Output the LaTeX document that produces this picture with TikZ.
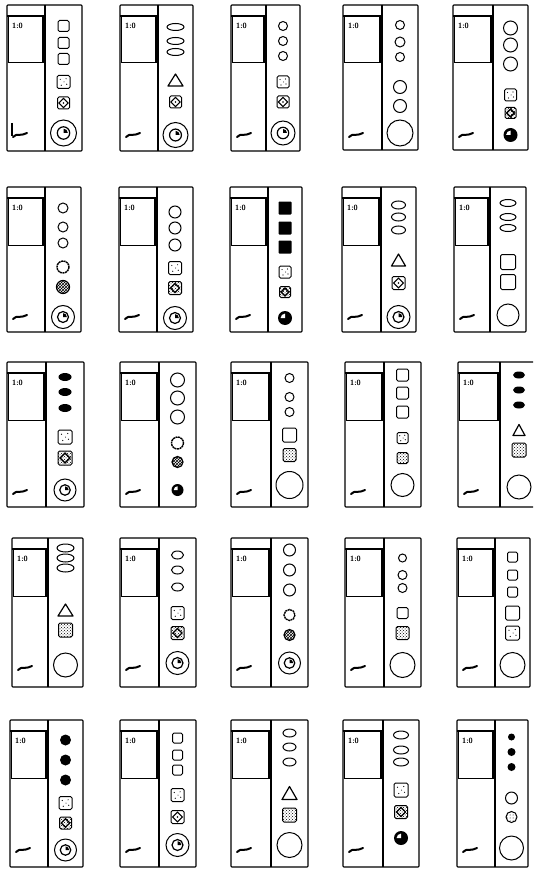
\documentclass[tikz,border=0pt]{standalone}
\usetikzlibrary{patterns}
\tikzset{
  frame/.style={line width=1.1pt, rounded corners=0.8pt},
  ic/.style={line width=1pt},
  disp/.style={line width=1pt},
  label10/.style={anchor=west, font=\sffamily\bfseries\fontsize{7.5}{8}\selectfont, inner sep=0pt}
}
\newcommand\Panel[6]{%
  \draw[frame] (#1,#4) rectangle (#3,#5);
  \draw[frame] (#1,#4+11) -- (#2,#4+11);
  \draw[disp] (#1+1.5,#4+11) rectangle (#2-1.5,#4+58);
  \draw[line width=2.2pt] (#2-2,#4+11) -- (#2-2,#4+58);
  \draw[line width=1.8pt] (#2,#4) -- (#2,#5);
  \node[label10] at (#1+5,#4+21) {1:0};
  \draw[line width=2pt, line cap=round] (#1+6,#4+132) -- (#1+9,#4+130) .. controls (#1+12,#4+129) and (#1+14,#4+131) .. (#1+20,#4+128);
  \begin{scope}[shift={({(#2+#3)/2},#4)}]#6\end{scope}%
}
\newcommand\icSq[2]{\draw[ic,rounded corners=1.5pt] (-#2/2,#1-#2/2) rectangle (#2/2,#1+#2/2);}
\newcommand\icFSq[2]{\fill[rounded corners=0.8pt] (-#2/2,#1-#2/2) rectangle (#2/2,#1+#2/2);}
\newcommand\icCi[2]{\draw[ic] (0,#1) circle[radius=#2/2];}
\newcommand\icFCi[2]{\fill (0,#1) circle[radius=#2/2];}
\newcommand\icEl[3]{\draw[ic] (0,#1) ellipse[x radius=#2/2, y radius=#3/2];}
\newcommand\icFEl[3]{\fill (0,#1) ellipse[x radius=#2/2, y radius=#3/2];}
\newcommand\icTri[3]{\draw[ic,line width=1.2pt,line join=round] (-#2/2,#1+#3/2) -- (#2/2,#1+#3/2) -- (0,#1-#3/2) -- cycle;}
\newcommand\icDot[2]{\icSq{#1}{#2}\fill (-#2/4,#1-#2/5) circle[radius=0.6] (#2/5,#1-#2/4) circle[radius=0.6] (-#2/6,#1+#2/4) circle[radius=0.6] (#2/4,#1+#2/6) circle[radius=0.6] (0.5,#1) circle[radius=0.5];}
\newcommand\icStip[2]{\draw[ic,rounded corners=1.5pt,pattern=crosshatch dots] (-#2/2,#1-#2/2) rectangle (#2/2,#1+#2/2);}
\newcommand\icPat[2]{\draw[ic,rounded corners=1.5pt,pattern=crosshatch dots] (-#2/2,#1-#2/2) rectangle (#2/2,#1+#2/2);\draw[line width=1.3pt] (0,#1-#2*0.35) -- (#2*0.35,#1) -- (0,#1+#2*0.35) -- (-#2*0.35,#1) -- cycle;}
\newcommand\icDia[2]{\icSq{#1}{#2}\draw[ic] (0,#1-#2*0.38) -- (#2*0.38,#1) -- (0,#1+#2*0.38) -- (-#2*0.38,#1) -- cycle;\fill (0,#1) circle[radius=0.9];}
\newcommand\icClock[2]{\draw[ic] (0,#1) circle[radius=#2/2];\draw[line width=1.2pt] (0,#1) circle[radius=#2/4.2];\fill (0,#1) -- (#2/6,#1) arc[start angle=0,end angle=-90,radius=#2/6] -- cycle;}
\newcommand\icDClock[2]{\fill (0,#1) circle[radius=#2/2];\fill[white] (0,#1) -- (-#2/3.2,#1) arc[start angle=180,end angle=270,radius=#2/3.2] -- cycle;}
\newcommand\icJag[2]{\draw[line width=1.4pt,dash pattern=on 2pt off 0.6pt] (0,#1) circle[radius=#2/2];}
\newcommand\icHatch[2]{\draw[line width=1.2pt,pattern=crosshatch] (0,#1) circle[radius=#2/2];}
\newcommand\icSpeck[2]{\draw[ic,pattern=dots] (0,#1) circle[radius=#2/2];}
\begin{document}
\begin{tikzpicture}[x=1pt,y=-1pt]
\useasboundingbox (0,0) rectangle (533,869);
\fill[white] (0,0) rectangle (533,869);
\clip (0,0) rectangle (533,869);
% Row 1
\Panel{7}{45}{82}{5}{151}{\icSq{21}{11}\icSq{38}{11}\icSq{54}{11}\icDot{77}{13}\icDia{98}{12}\icClock{128}{26}}
\draw[line width=1.4pt] (12,123) -- (12,136);
\Panel{120}{158}{193}{5}{151}{\icEl{22}{17}{7}\icEl{36}{17}{7}\icEl{47}{17}{7}\icTri{75}{15}{12}\icDia{97}{12}\icClock{130}{25}}
\Panel{231}{266}{300}{5}{151}{\icCi{21}{9}\icCi{36}{9}\icCi{51}{9}\icDot{77}{12}\icDia{97}{12}\icClock{128}{24}}
\Panel{343}{382}{418}{5}{150}{\icCi{20}{9}\icCi{37}{10}\icCi{52}{9}\icCi{82}{13}\icCi{101}{13}\icCi{128}{26}}
\Panel{453}{493}{528}{5}{150}{\icCi{23}{14}\icCi{40}{14}\icCi{59}{14}\icDot{90}{12}\icPat{108}{11}\icDClock{130}{14}}
% Row 2
\Panel{7}{45}{81}{187}{332}{\icCi{21}{10}\icCi{40}{10}\icCi{56}{10}\icJag{80}{12}\icHatch{100}{13}\icClock{130}{23}}
\Panel{119}{157}{193}{187}{332}{\icCi{25}{12}\icCi{41}{12}\icCi{58}{12}\icDot{81}{13}\icPat{101}{13}\icClock{131}{23}}
\Panel{230}{268}{302}{187}{332}{\icFSq{21}{13}\icFSq{41}{13}\icFSq{60}{13}\icDot{85}{12}\icPat{105}{11}\icDClock{131}{14}}
\Panel{342}{381}{416}{187}{332}{\icEl{18}{14}{8}\icEl{30}{14}{8}\icEl{43}{14}{8}\icTri{73}{14}{12}\icDia{96}{13}\icClock{130}{23}}
\Panel{454}{490}{526}{187}{332}{\icEl{16}{16}{7}\icEl{30}{16}{7}\icEl{41}{16}{7}\icSq{75}{15}\icSq{95}{15}\icCi{128}{22}}
% Row 3
\Panel{7}{46}{84}{362}{507}{\icFEl{15}{13}{8}\icFEl{30}{13}{8}\icFEl{46}{13}{8}\icDot{75}{14}\icPat{96}{14}\icClock{128}{22}}
\Panel{120}{159}{196}{362}{507}{\icCi{18}{14}\icCi{36}{14}\icCi{55}{14}\icJag{81}{12}\icHatch{100}{11}\icDClock{128}{12}}
\Panel{231}{271}{308}{362}{507}{\icCi{16}{9}\icCi{35}{9}\icCi{50}{9}\icSq{73}{14}\icStip{93}{13}\icCi{123}{27}}
\Panel{345}{384}{421}{362}{507}{\icSq{13}{12}\icSq{31}{12}\icSq{50}{12}\icDot{76}{11}\icStip{96}{11}\icCi{123}{23}}
\Panel{458}{500}{538}{362}{507}{\icFEl{13}{12}{7}\icFEl{28}{12}{7}\icFEl{43}{12}{7}\icTri{68}{12}{11}\icStip{88}{14}\icCi{125}{24}}
% Row 4
\Panel{12}{48}{83}{538}{687}{\icEl{10}{17}{8}\icEl{20}{17}{8}\icEl{30}{17}{8}\icTri{72}{15}{12}\icStip{92}{14}\icCi{127}{24}}
\Panel{120}{159}{196}{538}{687}{\icEl{17}{12}{8}\icEl{32}{12}{8}\icEl{49}{12}{8}\icDot{75}{13}\icPat{95}{13}\icClock{125}{23}}
\Panel{231}{271}{308}{538}{687}{\icCi{12}{12}\icCi{32}{12}\icCi{52}{12}\icJag{77}{11}\icHatch{97}{11}\icClock{125}{22}}
\Panel{345}{384}{421}{538}{687}{\icCi{20}{8}\icCi{37}{9}\icCi{50}{9}\icSq{75}{11}\icStip{95}{13}\icCi{127}{25}}
\Panel{457}{495}{530}{538}{687}{\icSq{19}{10}\icSq{37}{10}\icSq{54}{10}\icSq{75}{14}\icDot{95}{14}\icCi{127}{25}}
% Row 5
\Panel{10}{48}{83}{720}{867}{\icFCi{20}{11}\icFCi{40}{11}\icFCi{60}{11}\icDot{83}{13}\icPat{103}{12}\icClock{130}{22}}
\Panel{120}{159}{196}{720}{867}{\icSq{18}{10}\icSq{35}{10}\icSq{50}{10}\icDot{75}{13}\icDia{97}{13}\icClock{125}{23}}
\Panel{231}{271}{308}{720}{867}{\icEl{13}{13}{8}\icEl{27}{13}{8}\icEl{42}{13}{8}\icTri{73}{15}{13}\icStip{95}{14}\icCi{125}{25}}
\Panel{343}{383}{419}{720}{867}{\icEl{15}{15}{8}\icEl{30}{15}{8}\icEl{42}{15}{8}\icDot{70}{14}\icPat{92}{13}\icDClock{118}{14}}
\Panel{457}{495}{528}{720}{867}{\icFCi{17}{7}\icFCi{32}{8}\icFCi{47}{8}\icCi{78}{12}\icSpeck{97}{11}\icCi{128}{24}}
\end{tikzpicture}
\end{document}
